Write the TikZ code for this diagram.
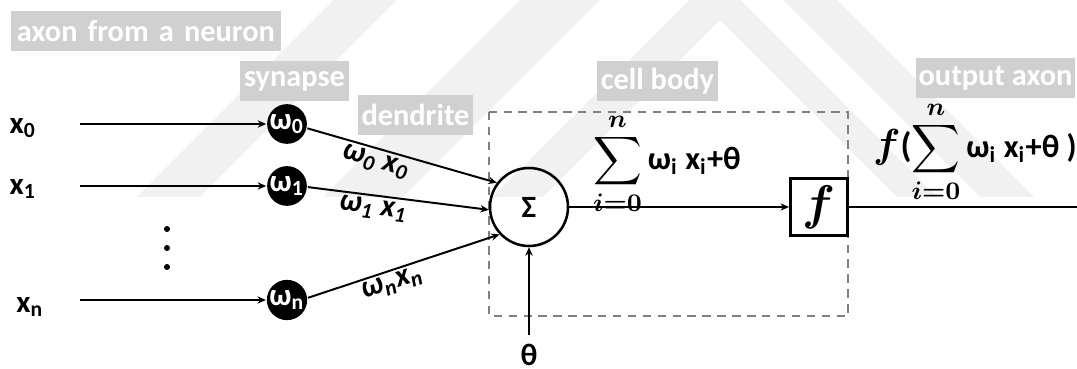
\documentclass[tikz,border=0pt]{standalone}
\usepackage{amsmath,bm}
\usepackage{fontspec}
\setsansfont{Carlito}
\usetikzlibrary{arrows.meta}
\definecolor{tagfill}{RGB}{208,208,208}
\definecolor{boxline}{RGB}{128,128,128}
\definecolor{wmark}{RGB}{241,241,241}
\newcommand{\pix}[1]{#1*0.0125cm}
\begin{document}
\begin{tikzpicture}[x=0.0125cm,y=-0.0125cm,line width=0.7pt,
    >={Stealth[length=3pt,width=2.6pt]},
    tag/.style={fill=tagfill,text=white,anchor=north west,inner sep=0pt,
      minimum height=\pix{40},font=\sffamily\bfseries\fontsize{10.8}{12}\selectfont},
    inlab/.style={font=\sffamily\bfseries\fontsize{11}{12}\selectfont},
    syn/.style={circle,fill=black,text=white,inner sep=0pt,minimum size=\pix{35},
      font=\sffamily\bfseries\fontsize{11}{11}\selectfont},
    wlab/.style={font=\sffamily\bfseries\itshape\fontsize{11}{12}\selectfont,inner sep=1pt}]
    \useasboundingbox (0,0) rectangle (1077,369);
    % watermark in the background
    \begin{scope}
        \clip (0,0) rectangle (1077,197);
        \fill[wmark] (334,0) -- (397,0) -- (200,197) -- (137,197) -- cycle;
        \fill[wmark] (323,197) -- (678.5,-158.5) -- (1034,197) -- (980,197)
            -- (691.5,-91.5) -- (403,197) -- cycle;
        \fill[wmark] (493,197) -- (715,-25) -- (937,197) -- (897,197)
            -- (720,20) -- (543,197) -- cycle;
    \end{scope}
    % grey tags
    \node[tag,minimum width=\pix{270},text width=\pix{258},inner xsep=\pix{6},align=left]
        (tagaxon) at (10,10) {\mbox{axon from a neuron}};
    \node[tag,minimum width=\pix{109}] (tagsyn) at (239,60) {synapse};
    \node[tag,minimum width=\pix{115}] (tagden) at (357,94) {dendrite};
    \node[tag,minimum width=\pix{121}] (tagcell) at (596,60) {cell body};
    \node[tag,minimum width=\pix{159}] (tagout) at (915,57) {output axon};
    % inputs
    \node[inlab] (x0) at (23,128) {x\textsubscript{0}};
    \node[inlab] (x1) at (23,189) {x\textsubscript{1}};
    \node[inlab] (xn) at (30,307) {x\textsubscript{n}};
    \coordinate (a0) at (80,124);
    \coordinate (a1) at (80,186);
    \coordinate (an) at (80,300);
    \foreach \y in {229,248,267} \fill (167,\y) circle (\pix{3});
    % synapses
    \node[syn] (w0) at (287,124) {ω\textsubscript{0}};
    \node[syn] (w1) at (287,186) {ω\textsubscript{1}};
    \node[syn] (wn) at (287,300) {ω\textsubscript{n}};
    \draw[->] (a0) -- (w0);
    \draw[->] (a1) -- (w1);
    \draw[->] (an) -- (wn);
    % cell body
    \draw[boxline,dashed,dash pattern=on 3pt off 2.3pt,line width=0.8pt] (489,112) rectangle (848,316);
    \node[circle,draw,line width=0.9pt,minimum size=\pix{78},inner sep=0pt,
        font=\sffamily\bfseries\fontsize{11}{12}\selectfont] (sum) at (529,207) {Σ};
    \node[draw,line width=1.1pt,minimum width=\pix{57},minimum height=\pix{57},inner sep=0pt,
        font=\fontsize{16}{16}\selectfont] (fbox) at (819,207) {$\bm{f}$};
    \draw[->] (w0.-12) -- (sum.143) node[wlab,sloped,below,pos=0.38] {ω\textsubscript{0} x\textsubscript{0}};
    \draw[->] (w1.-3) -- (sum.184) node[wlab,sloped,below,pos=0.37] {ω\textsubscript{1} x\textsubscript{1}};
    \draw[->] (wn.6) -- (sum.223) node[wlab,sloped,below,pos=0.42] {ω\textsubscript{n}x\textsubscript{n}};
    \node[inlab,font=\sffamily\bfseries\fontsize{11}{12}\selectfont,inner sep=\pix{8}] (theta) at (529,355) {θ};
    \draw[->] (theta) -- (sum);
    \draw[->] (sum) -- (fbox);
    \node[inner sep=0pt] (sumtxt) at (667,164)
        {\fontsize{12.5}{15}\selectfont$\displaystyle\sum_{\bm{i=0}}^{\bm{n}}$\,{\sffamily\bfseries\fontsize{11.5}{12}\selectfont ω\textsubscript{i} x\textsubscript{i}+θ}};
    % output axon
    \coordinate (out) at (1077,207);
    \draw (fbox) -- (out);
    \node[inner sep=0pt] (outtxt) at (975,152)
        {\fontsize{12.5}{15}\selectfont{\fontsize{15}{15}\selectfont$\bm{f}$}{\sffamily\bfseries(}$\displaystyle\sum_{\bm{i=0}}^{\bm{n}}$\,{\sffamily\bfseries\fontsize{11.5}{12}\selectfont ω\textsubscript{i} x\textsubscript{i}+θ )}};
\end{tikzpicture}
\end{document}
